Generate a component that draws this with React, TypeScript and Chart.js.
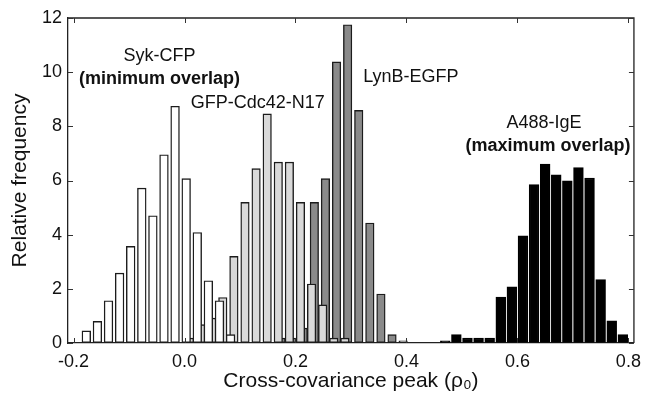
import React, { useEffect, useRef } from "react";
import { Chart, registerables } from "chart.js";

Chart.register(...registerables);

// ---- Data ----
// Syk-CFP (white bars)
const sykCenters = [-0.177, -0.157, -0.137, -0.117, -0.097, -0.077, -0.057, -0.037, -0.017, 0.003, 0.023, 0.043, 0.063, 0.083];
const sykFreq = [0.45, 0.8, 1.56, 2.58, 3.57, 5.72, 4.7, 6.95, 8.74, 6.07, 4.08, 2.3, 1.56, 0.31];

// GFP-Cdc42-N17 (light grey bars)
const gfpCenters = [0.009, 0.029, 0.049, 0.069, 0.089, 0.109, 0.129, 0.149, 0.169, 0.189, 0.209, 0.229, 0.249, 0.269, 0.289];
const gfpFreq = [0.18, 0.68, 0.92, 1.68, 3.2, 5.19, 6.44, 8.46, 6.68, 6.68, 5.19, 2.18, 1.41, 0.18, 0.18];

// LynB-EGFP (dark grey bars)
const lynCenters = [0.174, 0.194, 0.214, 0.234, 0.254, 0.274, 0.294, 0.314, 0.334, 0.354, 0.374, 0.394];
const lynFreq = [0.18, 0.18, 0.55, 5.19, 6.07, 10.38, 11.75, 8.59, 4.43, 1.81, 0.31, 0.08];

// A488-IgE (black bars)
const igeCenters = [0.47, 0.49, 0.51, 0.53, 0.55, 0.57, 0.59, 0.61, 0.63, 0.65, 0.67, 0.69, 0.71, 0.73, 0.75, 0.77, 0.79];
const igeFreq = [0.08, 0.31, 0.18, 0.18, 0.18, 1.7, 2.07, 3.96, 5.85, 6.61, 6.21, 5.99, 6.48, 6.09, 2.34, 0.82, 0.31];

// Axis ticks
const xTickValues = [-0.2, 0.0, 0.2, 0.4, 0.6, 0.8];
const yTickValues = [0, 2, 4, 6, 8, 10, 12];

// Annotations (text, data-x, data-y, bold)
const noteTexts = ["Syk-CFP", "(minimum overlap)", "GFP-Cdc42-N17", "LynB-EGFP", "A488-IgE", "(maximum overlap)"];
const noteX = [-0.045, -0.045, 0.132, 0.408, 0.648, 0.655];
const noteY = [10.58, 9.73, 8.85, 9.81, 8.11, 7.27];
const noteBold = [false, true, false, false, false, true];

const FONT = "'Liberation Sans', Arial, Helvetica, sans-serif";

const toPoints = (xs: number[], ys: number[]) => xs.map((x, i) => ({ x, y: ys[i] }));

const framePlugin = {
  id: "frameAndNotes",
  afterDatasetsDraw(chart: any) {
    const { ctx, chartArea: a, scales } = chart;
    const xs = scales.x;
    const ys = scales.y;
    ctx.save();
    ctx.strokeStyle = "#222";
    ctx.lineWidth = 1.3;
    ctx.beginPath();
    ctx.moveTo(a.left, a.top);
    ctx.lineTo(a.right, a.top);
    ctx.lineTo(a.right, a.bottom);
    ctx.stroke();
    ctx.lineWidth = 1;
    ctx.strokeStyle = "#333";
    ctx.beginPath();
    for (const v of xTickValues) {
      const px = Math.round(xs.getPixelForValue(v)) + 0.5;
      ctx.moveTo(px, a.top);
      ctx.lineTo(px, a.top + 5);
      ctx.moveTo(px, a.bottom);
      ctx.lineTo(px, a.bottom - 5);
    }
    for (const v of yTickValues) {
      const py = Math.round(ys.getPixelForValue(v)) + 0.5;
      ctx.moveTo(a.left, py);
      ctx.lineTo(a.left + 5, py);
      ctx.moveTo(a.right, py);
      ctx.lineTo(a.right - 5, py);
    }
    ctx.stroke();

    ctx.fillStyle = "#111";
    ctx.textAlign = "center";
    ctx.textBaseline = "middle";
    noteTexts.forEach((t, i) => {
      ctx.font = `${noteBold[i] ? "bold " : ""}18px ${FONT}`;
      ctx.fillText(t, xs.getPixelForValue(noteX[i]), ys.getPixelForValue(noteY[i]));
    });
    ctx.restore();
  },
};

export default function App() {
  const ref = useRef<HTMLCanvasElement | null>(null);

  useEffect(() => {
    if (!ref.current) return;
    const border = "#1c1c1c";
    const chart = new Chart(ref.current, {
      type: "bar",
      data: {
        datasets: [
          {
            label: "Syk-CFP",
            data: toPoints(sykCenters, sykFreq),
            backgroundColor: "#ffffff",
            borderColor: border,
            borderWidth: 1.4,
            borderSkipped: false,
            barThickness: 8.7,
            grouped: false,
          },
          {
            label: "GFP-Cdc42-N17",
            data: toPoints(gfpCenters, gfpFreq),
            backgroundColor: "#d9d9d9",
            borderColor: border,
            borderWidth: 1.4,
            borderSkipped: false,
            barThickness: 8.5,
            grouped: false,
          },
          {
            label: "LynB-EGFP",
            data: toPoints(lynCenters, lynFreq),
            backgroundColor: "#8a8a8a",
            borderColor: border,
            borderWidth: 1.4,
            borderSkipped: false,
            barThickness: 8.5,
            grouped: false,
          },
          {
            label: "A488-IgE",
            data: toPoints(igeCenters, igeFreq),
            backgroundColor: "#000000",
            borderColor: "#000000",
            borderWidth: 1.4,
            borderSkipped: false,
            barThickness: 9.8,
            grouped: false,
          },
        ] as any,
      },
      options: {
        animation: false,
        responsive: false,
        devicePixelRatio: 1,
        layout: { padding: { left: 0, top: 18, right: 11, bottom: 0 } },
        plugins: {
          legend: { display: false },
          tooltip: { enabled: false },
        },
        scales: {
          x: {
            type: "linear",
            min: -0.21,
            max: 0.81,
            offset: false,
            grid: { display: true, drawOnChartArea: false, drawTicks: false, offset: false },
            border: { display: true, color: "#222", width: 1.3 },
            afterBuildTicks: (scale: any) => {
              scale.ticks = xTickValues.map((v) => ({ value: v }));
            },
            afterFit: (scale: any) => {
              scale.height = 51;
            },
            ticks: {
              includeBounds: false,
              padding: 8,
              color: "#111",
              font: { family: FONT, size: 18 },
              maxRotation: 0,
              autoSkip: false,
              callback: (v: any) => Number(v).toFixed(1),
            },
            title: {
              display: true,
              text: "Cross-covariance peak (ρ₀)",
              color: "#111",
              font: { family: FONT, size: 21 },
              padding: { top: 2, bottom: 0 },
            },
          },
          y: {
            type: "linear",
            min: 0,
            max: 12,
            grid: { display: true, drawOnChartArea: false, drawTicks: false },
            border: { display: true, color: "#222", width: 1.3 },
            afterBuildTicks: (scale: any) => {
              scale.ticks = yTickValues.map((v) => ({ value: v }));
            },
            afterFit: (scale: any) => {
              scale.width = 68;
            },
            ticks: {
              padding: 6,
              color: "#111",
              font: { family: FONT, size: 18 },
              callback: (v: any) => String(v),
            },
            title: {
              display: true,
              text: "Relative frequency",
              color: "#111",
              font: { family: FONT, size: 21 },
              padding: { top: 8, bottom: 0 },
            },
          },
        },
      } as any,
      plugins: [framePlugin],
    });
    return () => chart.destroy();
  }, []);

  return (
    <div style={{ position: "fixed", left: 0, top: 0, width: 649, height: 394, background: "#fff" }}>
      <canvas ref={ref} width={649} height={394} style={{ display: "block" }} />
    </div>
  );
}
